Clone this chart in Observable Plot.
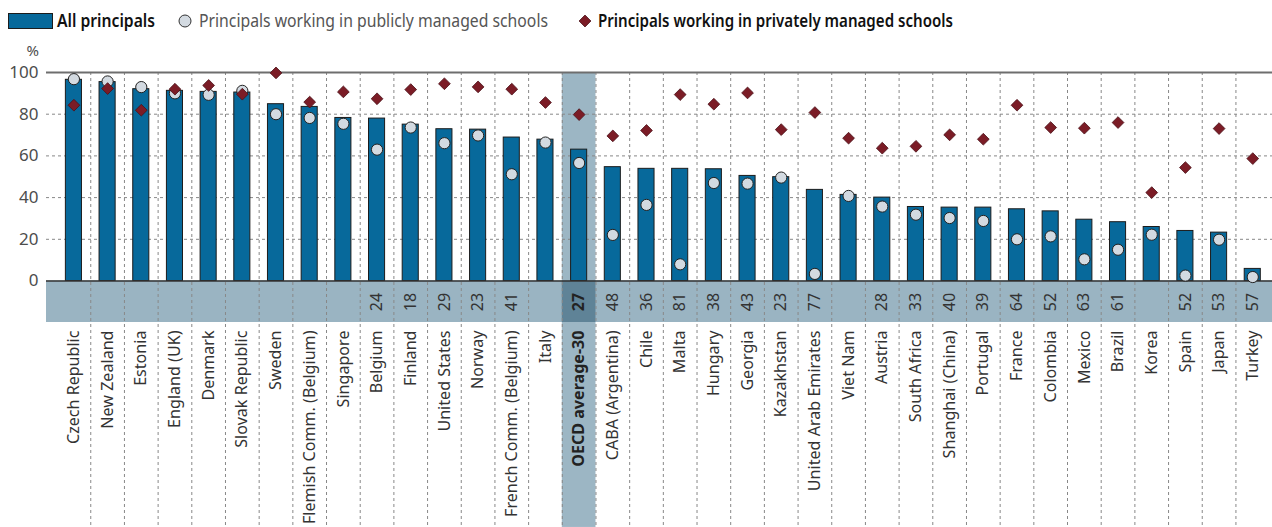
<!DOCTYPE html>
<html><head><meta charset="utf-8">
<script src="https://cdn.jsdelivr.net/npm/d3@7"></script>
<script src="https://cdn.jsdelivr.net/npm/@observablehq/plot@0.6"></script>
<style>
body{margin:0;background:#fff;font-family:"Noto Sans",sans-serif;}
#legend{height:40px;}
#legend svg, #chart svg{display:block;}
</style></head><body>
<div id="legend"></div><div id="chart"></div>
<script>
const countries = ["Czech Republic","New Zealand","Estonia","England (UK)","Denmark","Slovak Republic","Sweden","Flemish Comm. (Belgium)","Singapore","Belgium","Finland","United States","Norway","French Comm. (Belgium)","Italy","OECD average-30","CABA (Argentina)","Chile","Malta","Hungary","Georgia","Kazakhstan","United Arab Emirates","Viet Nam","Austria","South Africa","Shanghai (China)","Portugal","France","Colombia","Mexico","Brazil","Korea","Spain","Japan","Turkey"];
const allPrincipals = [96.5,95.4,92,91.2,90.7,90.4,84.8,83.5,78.2,77.9,75,72.8,72.6,68.8,67.8,63,54.6,53.8,53.8,53.6,50.4,49.8,43.7,41.3,40,35.5,35.2,35.2,34.4,33.4,29.4,28.2,25.9,24,23.2,5.8];
const publicSchools = [96.8,95.7,93,90,89.3,91.2,80,78.2,75.4,63,73.6,66.1,69.8,51.2,66.4,56.6,22.1,36.5,8,47,46.7,49.6,3.4,40.8,35.7,31.8,30.2,28.8,20,21.4,10.4,15,22.2,2.6,19.8,1.9];
const privateSchools = [84.3,92.3,81.9,92,93.8,89.6,99.8,85.8,90.7,87.4,91.8,94.6,93.1,92,85.6,79.8,69.6,72.2,89.4,84.8,90.2,72.6,80.8,68.5,63.7,64.6,70.1,68,84.3,73.6,73.3,76,42.4,54.4,73.1,58.7];
const differences = [null,null,null,null,null,null,null,null,null,24,18,29,23,41,null,27,48,36,81,38,43,23,77,null,28,33,40,39,64,52,63,61,null,52,53,57];
const yTicks = [0,20,40,60,80,100];
const highlight = "OECD average-30";
const legendLabels = ["All principals","Principals working in publicly managed schools","Principals working in privately managed schools"];

const data = countries.map((c,i)=>({country:c, all:allPrincipals[i], pub:publicSchools[i], priv:privateSchools[i], diff:differences[i]}));

const W = 1272, H = 487, ML = 46, MR = 0, MT = 32, MB = 246.5;
const PO = 0.2;
const step = (W - ML - MR) / (countries.length + 2*PO);
const BAND = -19.9, BOTTOM = -118.2;
const BLUE = "#07699b", GREY = "#d3dae1", RED = "#7b1c26";

const chart = Plot.plot({
  width: W, height: H, marginLeft: ML, marginRight: MR, marginTop: MT, marginBottom: MB,
  style: {fontFamily: "'Noto Sans', sans-serif", color: "#4d4d4d", background: "#fff"},
  x: {domain: countries, paddingInner: 0, paddingOuter: PO, align: 0.785, round: false, axis: null},
  y: {domain: [0,100], axis: null},
  marks: [
    Plot.barY([highlight], {x: d=>d, y1: ()=>100, y2: ()=>BOTTOM, fill: "#9cb6c4"}),
    Plot.rect([0], {y1: ()=>0, y2: ()=>BAND, fill: "#9ab4c2"}),
    Plot.barY([highlight], {x: d=>d, y1: ()=>0, y2: ()=>BAND, fill: "#5f8397"}),
    Plot.ruleY([20,40,60,80], {stroke: "#888", strokeWidth: 1, strokeDasharray: "3,3"}),
    Plot.ruleX(countries.slice(1), {x: d=>d, dx: -step/2, y1: ()=>100, y2: ()=>BOTTOM, stroke: "#888", strokeWidth: 1, strokeDasharray: "3,3"}),
    Plot.barY(data, {x: "country", y: "all", fill: BLUE, stroke: "#1c1c1c", strokeWidth: 1, insetLeft: 8.8, insetRight: 8.8}),
    Plot.ruleY([0], {stroke: "#333", strokeWidth: 1.5}),
    Plot.ruleY([100], {stroke: "#6e6e6e", strokeWidth: 2}),
    Plot.dot(data, {x: "country", y: "pub", r: 5.6, fill: GREY, stroke: "#222", strokeWidth: 1}),
    Plot.dot(data, {x: "country", y: "priv", symbol: "diamond2", r: 5.3, fill: RED, stroke: "#4a1018", strokeWidth: 0.8}),
    Plot.text(data.filter(d=>d.diff!=null && d.country!==highlight), {x: "country", y: ()=>0, dy: 21, text: d=>String(d.diff), rotate: -90, fontSize: 16, fill: "#333"}),
    Plot.text(data.filter(d=>d.diff!=null && d.country===highlight), {x: "country", y: ()=>0, dy: 21, text: d=>String(d.diff), rotate: -90, fontSize: 16, fontWeight: "bold", fill: "#222"}),
    Plot.text(countries.filter(c=>c!==highlight), {x: d=>d, y: ()=>0, dy: 49.5, text: d=>d, rotate: -90, textAnchor: "end", fontSize: 16.1, fill: "#333"}),
    Plot.text([highlight], {x: d=>d, y: ()=>0, dy: 49.5, text: d=>d, rotate: -90, textAnchor: "end", fontSize: 16.1, fontWeight: "bold", fill: "#222"}),
    Plot.axisY({ticks: yTicks, tickSize: 0, tickPadding: 8, fontSize: 17, label: null}),
    Plot.text(["%"], {frameAnchor: "top-left", dx: -20, dy: -27, text: d=>d, fontSize: 15, fill: "#4d4d4d"})
  ]
});
document.getElementById("chart").appendChild(chart);

// Legend
const lg = d3.select("#legend").append("svg").attr("width", W).attr("height", 40)
  .style("font-family", "'Noto Sans', sans-serif");
lg.append("rect").attr("x", 8.5).attr("y", 13.5).attr("width", 44).attr("height", 15).attr("fill", BLUE).attr("stroke", "#1c1c1c");
lg.append("text").attr("x", 57).attr("y", 27).attr("font-size", 18).attr("font-weight", 600).attr("fill", "#111")
  .attr("textLength", 98).attr("lengthAdjust", "spacingAndGlyphs").text(legendLabels[0]);
lg.append("circle").attr("cx", 185).attr("cy", 21).attr("r", 6).attr("fill", GREY).attr("stroke", "#333");
lg.append("text").attr("x", 199).attr("y", 27).attr("font-size", 18).attr("fill", "#555")
  .attr("textLength", 349).attr("lengthAdjust", "spacingAndGlyphs").text(legendLabels[1]);
lg.append("path").attr("d", d3.symbol(d3.symbolDiamond2, 90)()).attr("transform", "translate(585,21)").attr("fill", RED).attr("stroke", "#4a1018").attr("stroke-width", 0.8);
lg.append("text").attr("x", 598).attr("y", 27).attr("font-size", 18).attr("font-weight", 600).attr("fill", "#111")
  .attr("textLength", 355).attr("lengthAdjust", "spacingAndGlyphs").text(legendLabels[2]);
</script>
</body></html>
